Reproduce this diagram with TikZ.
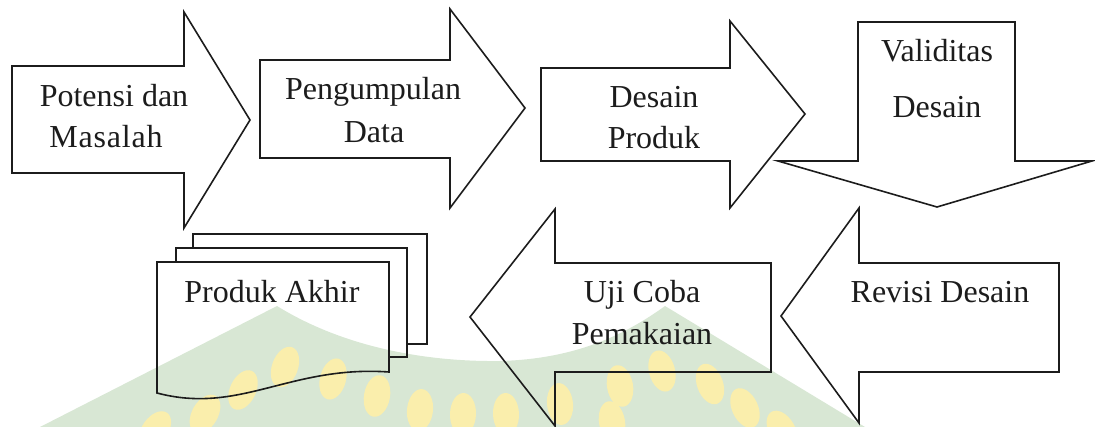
\documentclass[tikz,border=0pt]{standalone}
\usepackage{fontspec}
\setmainfont{Liberation Serif}
\definecolor{ink}{RGB}{28,28,28}
\definecolor{wmgreen}{RGB}{216,231,212}
\definecolor{wmyellow}{RGB}{250,238,172}
\begin{document}
\begin{tikzpicture}[x=1pt,y=-1pt,
  shapeline/.style={draw=ink, line width=1.6pt, line join=miter},
  lbl/.style={anchor=base, inner sep=0pt, text=ink, font=\fontsize{32}{38}\selectfont},
  leaf/.style={fill=wmyellow}]
\useasboundingbox (0,0) rectangle (1095,427);
% faint watermark
\fill[wmgreen] (40,427) -- (277,306) .. controls (340,345) and (420,362) .. (500,361)
  .. controls (575,359) and (625,335) .. (665,306) -- (865,427) -- cycle;
\foreach \cx/\cy/\r in {155/430/-35, 205/414/-30, 243/390/-25, 285/367/-20, 333/379/-15,
  377/396/-10, 420/410/-6, 463/414/-2, 506/414/2, 560/404/6, 612/422/10, 620/386/10,
  662/371/15, 710/384/20, 745/408/25, 782/430/30}
  \fill[leaf, rotate around={\r:(\cx,\cy)}] (\cx,\cy) ellipse [x radius=13pt, y radius=21pt];
% arrow 1
\draw[shapeline] (12,66) -- (184,66) -- (184,12) -- (250,120) -- (184,228) -- (184,173) -- (12,173) -- cycle;
\node[lbl] (t1a) at (114,107) {Potensi dan};
\node[lbl] (t1b) at (106,148) {\addfontfeature{LetterSpace=2.5}Masalah};
% arrow 2
\draw[shapeline] (260,60) -- (450,60) -- (450,9) -- (525,108) -- (450,208) -- (450,158) -- (260,158) -- cycle;
\node[lbl] (t2a) at (373,100) {Pengumpulan};
\node[lbl] (t2b) at (374,143) {Data};
% arrow 3
\draw[shapeline] (541,68) -- (730,68) -- (730,21) -- (805,114) -- (730,208) -- (730,161) -- (541,161) -- cycle;
\node[lbl] (t3a) at (654,108) {Desain};
\node[lbl] (t3b) at (654,149) {Produk};
% arrow 4 (down)
\draw[shapeline] (858,22) -- (1015,22) -- (1015,161) -- (1092,161) -- (937,207) -- (778,161) -- (858,161) -- cycle;
\node[lbl] (t4a) at (937,62) {Validitas};
\node[lbl] (t4b) at (937,118) {Desain};
% arrow 5 (left)
\draw[shapeline] (781,316) -- (859,208) -- (859,263) -- (1059,263) -- (1059,372) -- (859,372) -- (859,423) -- cycle;
\node[lbl] (t5) at (940,303) {Revisi Desain};
% arrow 6 (left)
\draw[shapeline] (470,317) -- (555,209) -- (555,263) -- (771,263) -- (771,372) -- (555,372) -- (555,426) -- cycle;
\node[lbl] (t6a) at (642,303) {Uji Coba};
\node[lbl] (t6b) at (642,345) {Pemakaian};
% multi-document
\draw[shapeline] (193,248) -- (193,234) -- (427,234) -- (427,344) -- (407,344);
\draw[shapeline] (176,262) -- (176,248) -- (407,248) -- (407,357) -- (389,357);
\draw[shapeline] (157,262) -- (389,262) -- (389,372) .. controls (290,365) and (240,415) .. (157,393) -- cycle;
\node[lbl] (t7) at (272,303) {Produk Akhir};
\end{tikzpicture}
\end{document}
